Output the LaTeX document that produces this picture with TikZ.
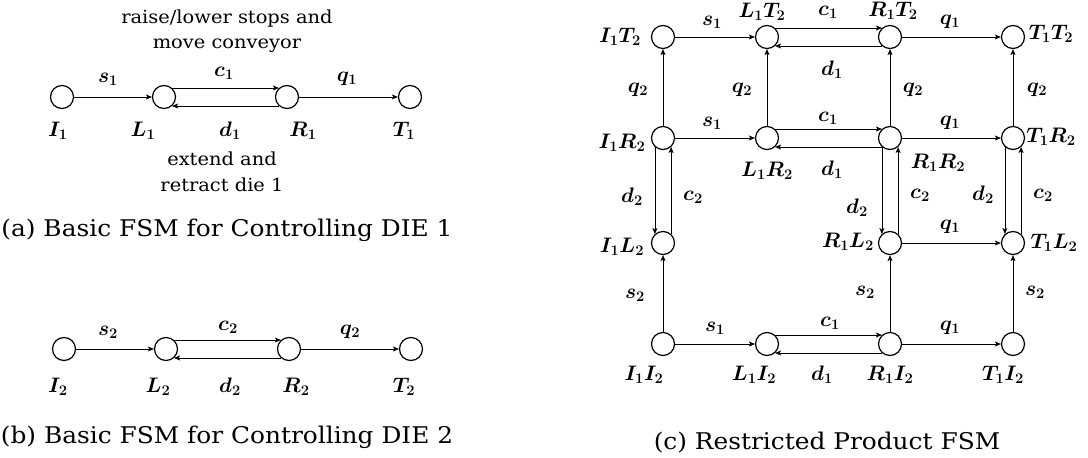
\RequirePackage{fix-cm}
\documentclass[tikz,border=0pt]{standalone}
\usepackage{fontspec}
\setmainfont{DejaVu Serif}[FakeStretch=1.08]
\usetikzlibrary{arrows.meta}
\begin{document}
\begin{tikzpicture}[x=1pt,y=-1pt,
  st/.style={circle,draw,line width=1.2pt,minimum size=23pt,inner sep=0pt},
  arr/.style={-{Stealth[length=6pt,width=5pt,inset=1.5pt]},line width=0.8pt},
  lab/.style={font=\fontsize{21}{21}\selectfont\boldmath,inner sep=0pt},
  txt/.style={font=\fontsize{18}{25.5}\selectfont,align=center,inner sep=0pt},
  captext/.style={font=\fontsize{23}{24}\selectfont,inner sep=0pt}]
\useasboundingbox (0,0) rectangle (1088,458);

% ---------- (a) FSM for die 1 ----------
\node[st] (aI) at (62,97) {};
\node[st] (aL) at (164,97) {};
\node[st] (aR) at (287,97) {};
\node[st] (aT) at (410,97) {};
\draw[arr] (aI) -- (aL);
\draw[arr] (aL.48) -- (aR.132);
\draw[arr] (aR.-132) -- (aL.-48);
\draw[arr] (aR) -- (aT);
\node[lab] (aIl) at (58,131) {$I_1$};
\node[lab] (aLl) at (143,131) {$L_1$};
\node[lab] (aRl) at (303,131) {$R_1$};
\node[lab] (aTl) at (404,131) {$T_1$};
\node[lab] (as) at (108,79) {$s_1$};
\node[lab] (ac) at (224,73) {$c_1$};
\node[lab] (ad) at (230,131) {$d_1$};
\node[lab] (aq) at (347,79) {$q_1$};
\node[txt] (atop) at (227,31) {raise/lower stops and\\move conveyor};
\node[txt] (abot) at (222,172) {extend and\\retract die 1};
\node[captext] (acap) at (227,230) {(a) Basic FSM for Controlling DIE 1};

% ---------- (b) FSM for die 2 ----------
\node[st] (bI) at (64,349) {};
\node[st] (bL) at (166,349) {};
\node[st] (bR) at (289,349) {};
\node[st] (bT) at (411,349) {};
\draw[arr] (bI) -- (bL);
\draw[arr] (bL.48) -- (bR.132);
\draw[arr] (bR.-132) -- (bL.-48);
\draw[arr] (bR) -- (bT);
\node[lab] (bIl) at (58,387) {$I_2$};
\node[lab] (bLl) at (158,387) {$L_2$};
\node[lab] (bRl) at (296,387) {$R_2$};
\node[lab] (bTl) at (404,387) {$T_2$};
\node[lab] (bs) at (108,332) {$s_2$};
\node[lab] (bc) at (228,327) {$c_2$};
\node[lab] (bd) at (230,387) {$d_2$};
\node[lab] (bq) at (350,332) {$q_2$};
\node[captext] (bcap) at (227,437) {(b) Basic FSM for Controlling DIE 2};

% ---------- (c) restricted product FSM ----------
\node[st] (IT) at (663,37) {};
\node[st] (LT) at (767,37) {};
\node[st] (RT) at (890,37) {};
\node[st] (TT) at (1013,37) {};
\node[st] (IR) at (663,138) {};
\node[st] (LR) at (767,138) {};
\node[st] (RR) at (890,138) {};
\node[st] (TR) at (1013,138) {};
\node[st] (IL) at (663,243) {};
\node[st] (RL) at (890,243) {};
\node[st] (TL) at (1013,243) {};
\node[st] (II) at (663,344) {};
\node[st] (LI) at (767,344) {};
\node[st] (RI) at (890,344) {};
\node[st] (TI) at (1013,344) {};

% horizontal transitions
\draw[arr] (IT) -- (LT);
\draw[arr] (LT.48) -- (RT.132);
\draw[arr] (RT.-132) -- (LT.-48);
\draw[arr] (RT) -- (TT);
\draw[arr] (IR) -- (LR);
\draw[arr] (LR.48) -- (RR.132);
\draw[arr] (RR.-132) -- (LR.-48);
\draw[arr] (RR) -- (TR);
\draw[arr] (RL) -- (TL);
\draw[arr] (II) -- (LI);
\draw[arr] (LI.48) -- (RI.132);
\draw[arr] (RI.-132) -- (LI.-48);
\draw[arr] (RI) -- (TI);

% vertical transitions
\draw[arr] (IR) -- (IT);
\draw[arr] (LR) -- (LT);
\draw[arr] (RR) -- (RT);
\draw[arr] (TR) -- (TT);
\draw[arr] (IR.-132) -- (IL.132);
\draw[arr] (IL.48) -- (IR.-48);
\draw[arr] (RR.-132) -- (RL.132);
\draw[arr] (RL.48) -- (RR.-48);
\draw[arr] (TR.-132) -- (TL.132);
\draw[arr] (TL.48) -- (TR.-48);
\draw[arr] (II) -- (IL);
\draw[arr] (RI) -- (RL);
\draw[arr] (TI) -- (TL);

% state names
\node[lab] (ITl) at (620,37) {$I_1T_2$};
\node[lab] (LTl) at (762,12) {$L_1T_2$};
\node[lab] (RTl) at (893,11) {$R_1T_2$};
\node[lab] (TTl) at (1051,34) {$T_1T_2$};
\node[lab] (IRl) at (622,143) {$I_1R_2$};
\node[lab] (LRl) at (767,171) {$L_1R_2$};
\node[lab] (RRl) at (938,163) {$R_1R_2$};
\node[lab] (TRl) at (1051,137) {$T_1R_2$};
\node[lab] (ILl) at (622,247) {$I_1L_2$};
\node[lab] (RLl) at (848,242) {$R_1L_2$};
\node[lab] (TLl) at (1054,243) {$T_1L_2$};
\node[lab] (IIl) at (644,375) {$I_1I_2$};
\node[lab] (LIl) at (754,375) {$L_1I_2$};
\node[lab] (RIl) at (890,375) {$R_1I_2$};
\node[lab] (TIl) at (1003,375) {$T_1I_2$};

% event labels
\node[lab] (e1) at (712,22) {$s_1$};
\node[lab] (e2) at (828,12) {$c_1$};
\node[lab] (e3) at (832,70) {$d_1$};
\node[lab] (e4) at (950,22) {$q_1$};
\node[lab] (e5) at (638,90) {$q_2$};
\node[lab] (e6) at (742,90) {$q_2$};
\node[lab] (e7) at (913,90) {$q_2$};
\node[lab] (e8) at (1037,90) {$q_2$};
\node[lab] (e9) at (712,123) {$s_1$};
\node[lab] (e10) at (828,118) {$c_1$};
\node[lab] (e11) at (832,170) {$d_1$};
\node[lab] (e12) at (950,123) {$q_1$};
\node[lab] (e13) at (632,197) {$d_2$};
\node[lab] (e14) at (693,197) {$c_2$};
\node[lab] (e15) at (857,208) {$d_2$};
\node[lab] (e16) at (920,195) {$c_2$};
\node[lab] (e17) at (983,195) {$d_2$};
\node[lab] (e18) at (1043,195) {$c_2$};
\node[lab] (e19) at (950,227) {$q_1$};
\node[lab] (e20) at (635,295) {$s_2$};
\node[lab] (e21) at (865,292) {$s_2$};
\node[lab] (e22) at (1035,292) {$s_2$};
\node[lab] (e23) at (715,328) {$s_1$};
\node[lab] (e24) at (830,323) {$c_1$};
\node[lab] (e25) at (950,328) {$q_1$};
\node[lab] (e26) at (822,375) {$d_1$};
\node[captext] (ccap) at (827,443) {(c) Restricted Product FSM};
\end{tikzpicture}
\end{document}
